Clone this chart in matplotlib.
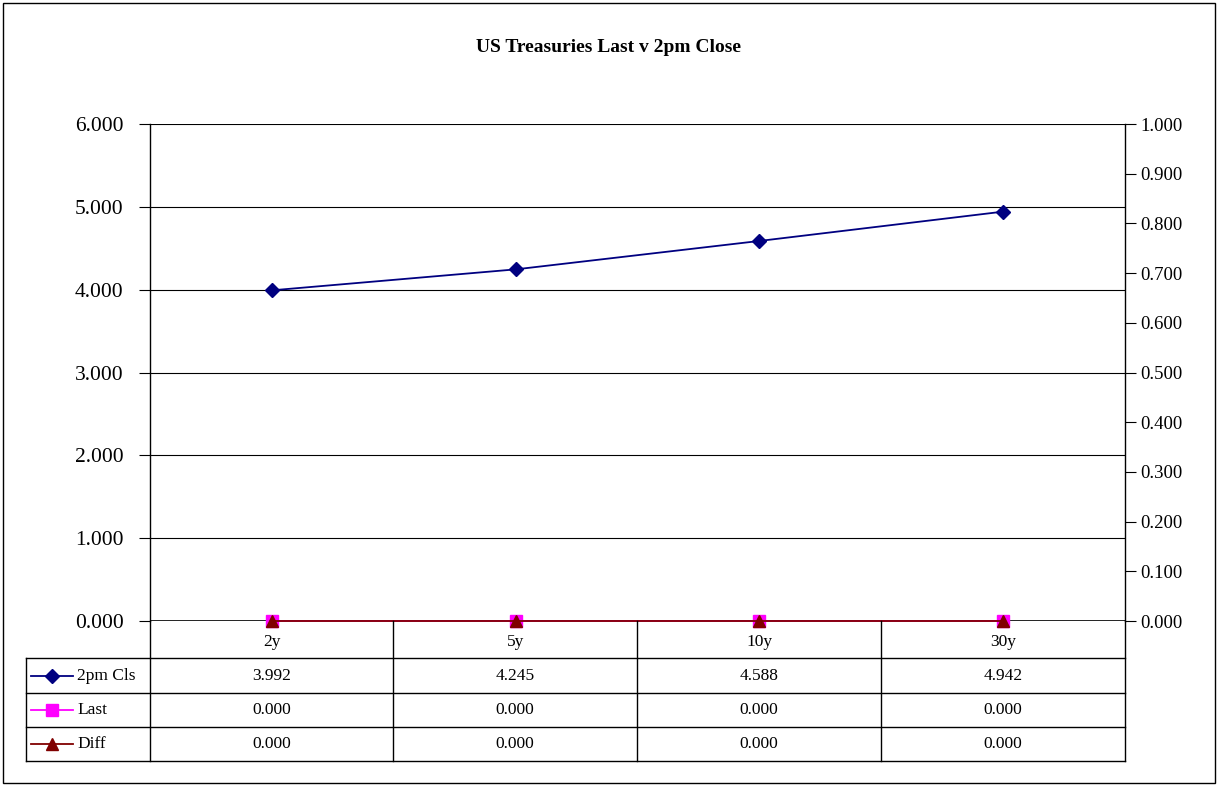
import matplotlib
matplotlib.use("Agg")
import matplotlib.pyplot as plt
from matplotlib.lines import Line2D
from matplotlib.patches import Rectangle

plt.rcParams['font.family'] = ['Liberation Serif', 'DejaVu Serif']

# tenors and yields
tenors = ["2y", "5y", "10y", "30y"]
close_2pm = [3.992, 4.245, 4.588, 4.942]
last = [0.000, 0.000, 0.000, 0.000]
diff = [0.000, 0.000, 0.000, 0.000]

series = [
    ("2pm Cls", close_2pm, "#000080", "D", 7),
    ("Last", last, "#FF00FF", "s", 8),
    ("Diff", diff, "#800000", "^", 9),
]

W, H = 1218, 785
fig = plt.figure(figsize=(W / 100, H / 100), dpi=100)

def fx(px):
    return px / W

def fy(py):
    return 1 - py / H

# outer chart border
fig.add_artist(Rectangle((fx(3), fy(783)), fx(1212), fy(3) - fy(783),
                         transform=fig.transFigure, fill=False, edgecolor="black", lw=1))

left, right, top, bottom = 150, 1125, 124, 621
ax = fig.add_axes([fx(left), fy(bottom), fx(right - left), fy(top) - fy(bottom)])
x = range(len(tenors))
for name, vals, col, mk, ms in series:
    ax.plot(x, vals, color=col, marker=mk, markersize=ms, lw=1.3, clip_on=False, zorder=3)

ax.set_xlim(-0.5, len(tenors) - 0.5)
ax.set_ylim(0, 6)
ax.set_yticks(range(0, 7))
ax.set_yticklabels(["%.3f" % v for v in range(0, 7)], fontsize=15.5)
ax.grid(axis="y", color="black", lw=0.8)
ax.set_axisbelow(True)
ax.tick_params(axis="y", direction="out", length=8, width=0.8, pad=11)
ax.set_xticks(list(x))
ax.set_xticklabels(tenors, fontsize=12.5)
ax.tick_params(axis="x", length=0, pad=9)
for s in ["top", "bottom"]:
    ax.spines[s].set_visible(False)
ax.axhline(0, color="black", lw=1.2, zorder=2)
ax.spines["left"].set_linewidth(1)
ax.spines["right"].set_visible(False)

ax2 = ax.twinx()
ax2.set_ylim(0, 1)
ax2.set_yticks([i / 10 for i in range(11)])
ax2.set_yticklabels(["%.3f" % (i / 10) for i in range(11)], fontsize=13.5)
ax2.tick_params(axis="y", direction="out", length=8, width=0.8, pad=3)
for s in ["top", "bottom", "left"]:
    ax2.spines[s].set_visible(False)
ax2.spines["right"].set_linewidth(1)

fig.text(fx(609), fy(47), "US Treasuries Last v 2pm Close", fontsize=14,
         fontweight="bold", ha="center", va="center")

# data table under the axis
cols = [150, 393, 637, 881, 1125]
rows = [658, 693, 727, 761]

def hline(y, x0, x1):
    fig.add_artist(Line2D([fx(x0), fx(x1)], [fy(y), fy(y)], color="black", lw=1))

def vline(xp, y0, y1):
    fig.add_artist(Line2D([fx(xp), fx(xp)], [fy(y0), fy(y1)], color="black", lw=1))

for r in rows:
    hline(r, 26, 1125)
vline(26, rows[0], rows[-1])
for c in cols:
    vline(c, bottom, rows[-1])

for i, (name, vals, col, mk, ms) in enumerate(series):
    yc = (rows[i] + rows[i + 1]) / 2
    fig.add_artist(Line2D([fx(31), fx(73)], [fy(yc), fy(yc)], color=col, lw=1.3))
    fig.add_artist(Line2D([fx(52)], [fy(yc)], color=col, marker=mk, markersize=ms, lw=0))
    fig.text(fx(77), fy(yc), name, fontsize=12.5, va="center", ha="left")
    for j, v in enumerate(vals):
        xc = (cols[j] + cols[j + 1]) / 2
        fig.text(fx(xc), fy(yc), "%.3f" % v, fontsize=12.5, va="center", ha="center")

fig.savefig("out.png", dpi=100)
